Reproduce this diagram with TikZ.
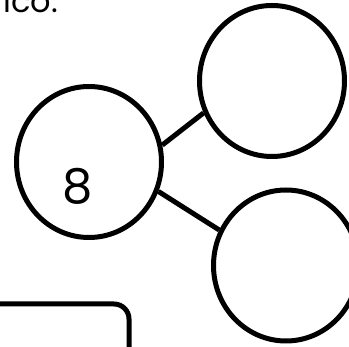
\documentclass[tikz,border=0pt]{standalone}
\usepackage{fontspec}
\setmainfont{Poppins}
\usetikzlibrary{shapes.geometric}
\tikzset{
  bubble/.style={draw=black, line width=5pt, ellipse, minimum width=145pt, minimum height=151pt, inner sep=0pt},
  link/.style={draw=black, line width=5pt},
  frame/.style={draw=black, line width=5pt, rounded corners=15pt},
}
\begin{document}
\begin{tikzpicture}[x=1pt,y=1pt]
\useasboundingbox (0,0) rectangle (349,-347);
\begin{scope}
\clip (0,0) rectangle (349,-347);
\node[anchor=base east, inner sep=0pt, font=\fontsize{32}{32}\selectfont] (cap) at (58,-13) {ico.};
\node[bubble] (L) at (89,-162) {};
\node[bubble] (TR) at (272,-81) {};
\node[bubble] (BR) at (286,-265.5) {};
\node[inner sep=0pt, font=\fontsize{48}{48}\selectfont] (eight) at (78,-186) {8};
\draw[link] (L.13.5) -- (TR.205.5);
\draw[link] (L.-23.8) -- (BR.152.8);
\coordinate (fa) at (-20,-304);
\coordinate (fb) at (129,-304);
\coordinate (fc) at (129,-370);
\draw[frame] (fa) -- (fb) -- (fc);
\end{scope}
\end{tikzpicture}
\end{document}
